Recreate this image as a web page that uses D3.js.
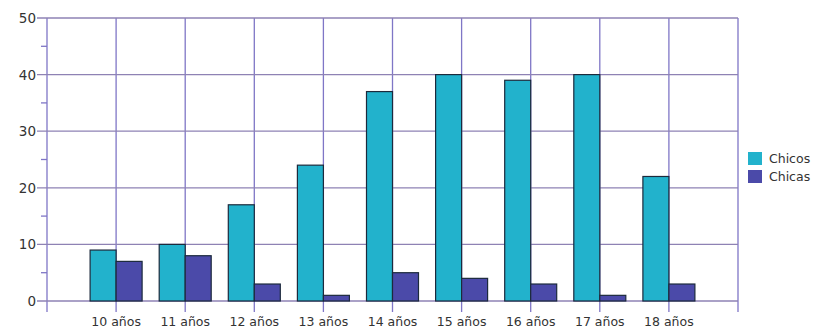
<!DOCTYPE html>
<html><head><meta charset="utf-8">
<script src="https://cdn.jsdelivr.net/npm/d3@7/dist/d3.min.js"></script>
<style>body{margin:0;background:#fff}svg{display:block}</style>
</head><body>
<svg id="c" width="814" height="331"></svg>
<script>
const categories = ["10 años","11 años","12 años","13 años","14 años","15 años","16 años","17 años","18 años"];
const chicos = [9,10,17,24,37,40,39,40,22];
const chicas = [7,8,3,1,5,4,3,1,3];
const seriesNames = ["Chicos","Chicas"];
const yTicks = [0,10,20,30,40,50];

const colors = ["#22b2cc","#4b4aa9"];
const svg = d3.select("#c");
const L=47,R=738,T=18,B=301;
const x = d3.scalePoint().domain(categories).range([L,R]).padding(1);
const y = d3.scaleLinear().domain([0,50]).range([B,T]);
const bw = 26;

// vertical grid
svg.append("g").selectAll("line").data(categories).join("line")
  .attr("x1",d=>x(d)).attr("x2",d=>x(d)).attr("y1",T).attr("y2",B+11)
  .attr("stroke","#7f76c6").attr("stroke-width",1.3);
// borders
[L,R].forEach(v=>svg.append("line").attr("x1",v).attr("x2",v).attr("y1",T).attr("y2",B+11)
  .attr("stroke","#7f76c6").attr("stroke-width",1.3));
// horizontal grid
svg.append("g").selectAll("line").data(yTicks).join("line")
  .attr("x1",L-10).attr("x2",R).attr("y1",d=>y(d)).attr("y2",d=>y(d))
  .attr("stroke","#8e82b4").attr("stroke-width",1.3);
// minor ticks
svg.append("g").selectAll("line").data([5,15,25,35,45]).join("line")
  .attr("x1",L-6).attr("x2",L).attr("y1",d=>y(d)).attr("y2",d=>y(d))
  .attr("stroke","#7f76c6").attr("stroke-width",1.3);
// y labels
svg.append("g").selectAll("text").data(yTicks).join("text")
  .attr("x",L-11).attr("y",d=>y(d)+5).attr("text-anchor","end")
  .attr("font-family","DejaVu Sans").attr("font-size",13.5).attr("fill","#333")
  .text(d=>d);
// bars
const series=[chicos,chicas];
series.forEach((vals,si)=>{
  svg.append("g").selectAll("rect").data(vals).join("rect")
    .attr("x",(d,i)=>x(categories[i]) + (si===0?-bw:0))
    .attr("y",d=>y(d)).attr("width",bw).attr("height",d=>B-y(d))
    .attr("fill",colors[si]).attr("stroke","#1c2a3c").attr("stroke-width",1.2);
});
// x labels
svg.append("g").selectAll("text").data(categories).join("text")
  .attr("x",d=>x(d)).attr("y",326).attr("text-anchor","middle")
  .attr("font-family","DejaVu Sans").attr("font-size",12.5).attr("fill","#333")
  .text(d=>d);
// legend
const lg = svg.append("g");
seriesNames.forEach((n,i)=>{
  lg.append("rect").attr("x",748).attr("y",152+i*18).attr("width",14).attr("height",13).attr("fill",colors[i]);
  lg.append("text").attr("x",769).attr("y",163+i*18).attr("font-family","DejaVu Sans")
    .attr("font-size",12.5).attr("fill","#333").text(n);
});
</script>
</body></html>
